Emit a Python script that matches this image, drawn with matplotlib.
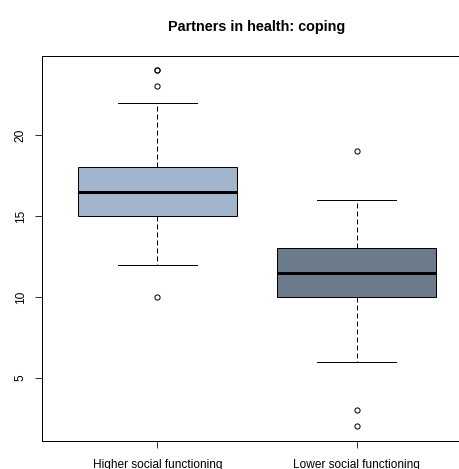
import matplotlib
matplotlib.use("Agg")
import matplotlib.pyplot as plt

plt.rcParams['font.family'] = ['Liberation Sans', 'DejaVu Sans']

# coping scores summarised per group
groups = ["Higher social functioning", "Lower social functioning"]
medians = [16.5, 11.5]
q1s = [15, 10]
q3s = [18, 13]
whis_low = [12, 6]
whis_high = [22, 16]
outliers = [[10, 23, 24, 24], [19, 3, 2]]
fills = ["#A2B5CD", "#6C7B8B"]

px = 0.72  # one pixel in points at 100 dpi

fig = plt.figure(figsize=(4.59, 4.69), dpi=100)
ax = fig.add_axes([42 / 459, 28.3 / 469, 430 / 459, 384.7 / 469])

stats = []
for i in range(len(groups)):
    stats.append(dict(med=medians[i], q1=q1s[i], q3=q3s[i],
                      whislo=whis_low[i], whishi=whis_high[i],
                      fliers=outliers[i], label=groups[i]))

bp = ax.bxp(stats, positions=[1, 2], widths=0.8, capwidths=0.4,
            patch_artist=True,
            boxprops=dict(edgecolor="black", linewidth=px),
            medianprops=dict(color="black", linewidth=3 * px),
            whiskerprops=dict(color="black", linewidth=px, linestyle=(0, (5, 3))),
            capprops=dict(color="black", linewidth=px),
            flierprops=dict(marker="o", markersize=5.2 * px, markerfacecolor="none",
                            markeredgecolor="black", markeredgewidth=px))
for patch, c in zip(bp["boxes"], fills):
    patch.set_facecolor(c)

ax.set_xlim(0.42, 2.58)
ax.set_ylim(1.12, 24.88)
ax.set_yticks([5, 10, 15, 20])
ax.set_xticks([1, 2])
ax.set_xticklabels(groups)

for s in ax.spines.values():
    s.set_linewidth(px)
    s.set_color("black")

ax.tick_params(axis="both", direction="out", length=7 * px, width=px,
               color="#333333", labelsize=8.6)
ax.tick_params(axis="y", labelrotation=90, pad=6)
ax.tick_params(axis="x", pad=8)
for lab in ax.get_yticklabels():
    lab.set_verticalalignment("center")

ax.set_title("Partners in health: coping", fontsize=10.4, fontweight="bold", pad=18)

fig.savefig("out.png", dpi=100)
